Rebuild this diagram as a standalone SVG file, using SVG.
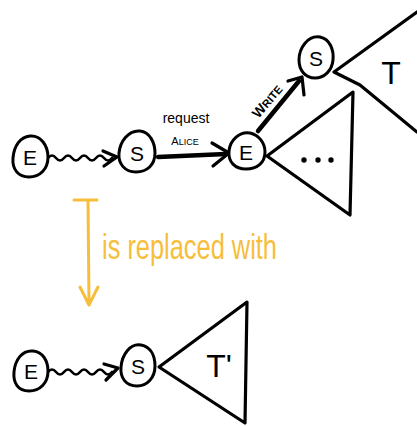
<svg xmlns="http://www.w3.org/2000/svg" width="417" height="426" viewBox="0 0 417 426">
<style>
.n{fill:#fff;stroke:#000;stroke-width:3}
.l{font-family:"Liberation Sans",Arial,sans-serif;font-size:21px;fill:#000;text-anchor:middle}
.e{fill:none;stroke:#000;stroke-width:2.6;stroke-linecap:round;stroke-linejoin:round}
.t{fill:none;stroke:#000;stroke-width:3.2;stroke-linecap:round;stroke-linejoin:round}
.k{fill:none;stroke:#000;stroke-width:4.5;stroke-linecap:round;stroke-linejoin:round}
.o{fill:none;stroke:#F7BE3C;stroke-width:3;stroke-linecap:round;stroke-linejoin:round}
.h{font-family:"Liberation Sans",Arial,sans-serif;fill:#000}
</style>
<rect width="417" height="426" fill="#fff"/>
<g id="connectors">
  <path class="e" d="M48,158 q4,-5 8,0 t8,0 t8,0 t8,0 t8,0 t8,0 t8,0 t8,0"/>
  <path class="t" d="M103,151 L117,157 L104,166"/>
  <path class="k" d="M158,157 L226,154"/>
  <path class="t" d="M212,143 L229,153 L213,166"/>
  <path class="k" d="M258,131 L299,81"/>
  <path class="t" d="M288,81 L302,77 L304,95"/>
  <path class="e" d="M48,372 q4,-5 8,0 t8,0 t8,0 t8,0 t8,0 t8,0 t8,0 t8,0"/>
  <path class="t" d="M104,364 L118,368 L106,380"/>
  <path class="o" d="M74,200 L97,200 M88,200 L89,304 M80,287 L89,305 L98,287"/>
</g>
<g id="label-request">
  <text class="h" x="186" y="123" font-size="14" text-anchor="middle">request</text>
  <text class="h" x="185" y="145" font-size="11" text-anchor="middle">A<tspan font-size="9">LICE</tspan></text>
</g>
<g id="label-write">
  <text class="h" x="267" y="106" font-size="14" font-weight="bold" text-anchor="middle" transform="rotate(-50 267 101)">W<tspan font-size="11">RITE</tspan></text>
</g>
<g id="label-replaced">
  <text x="102" y="259" font-family="Liberation Sans Narrow,Liberation Sans,Arial,sans-serif" font-size="35" fill="#F7BE3C" textLength="175" lengthAdjust="spacingAndGlyphs">is replaced with</text>
</g>
<g id="tree-T">
  <path class="t" d="M417,12 L334,72 L360,85 L417,132"/>
  <text class="h" x="391" y="84" font-size="32" text-anchor="middle">T</text>
</g>
<g id="tree-dots">
  <path class="t" d="M353,92 L267,156 L350,215 Z"/>
  <circle cx="304" cy="160" r="2.7"/><circle cx="318" cy="160" r="2.7"/><circle cx="331" cy="160" r="2.7"/>
</g>
<g id="tree-Tprime">
  <path class="t" d="M247,302 L159,367 L245,423 Z"/>
  <text class="h" x="219" y="377" font-size="32" text-anchor="middle">T'</text>
</g>
<g id="node-E1">
  <path class="n" d="M30,136 C41,135 48,146 48,157 C48,169 40,177 29,177 C18,177 12,169 13,158 C14,146 20,137 30,136 Z"/>
  <text class="l" x="30" y="165">E</text>
</g>
<g id="node-S1">
  <path class="n" d="M140,131 C150,132 155,143 155,153 C155,165 147,172 136,172 C125,172 118,164 119,153 C120,142 128,130 140,131 Z"/>
  <text class="l" x="137" y="161">S</text>
</g>
<g id="node-E2">
  <path class="n" d="M250,133 C259,135 265,143 265,152 C265,163 257,169 246,169 C235,169 228,162 229,151 C230,140 240,131 250,133 Z"/>
  <text class="l" x="246" y="160">E</text>
</g>
<g id="node-S2">
  <path class="n" d="M320,37 C330,39 334,50 333,60 C332,71 324,78 315,78 C305,78 299,70 299,60 C299,48 308,35 320,37 Z"/>
  <text class="l" x="316" y="66">S</text>
</g>
<g id="node-E3">
  <path class="n" d="M33,351 C43,352 48,361 48,371 C48,383 40,391 29,391 C18,391 13,383 14,372 C15,360 22,350 33,351 Z"/>
  <text class="l" x="31" y="379">E</text>
</g>
<g id="node-S3">
  <path class="n" d="M141,345 C151,347 155,356 155,366 C155,378 147,386 137,386 C126,386 120,378 121,367 C122,355 130,343 141,345 Z"/>
  <text class="l" x="138" y="374">S</text>
</g>
</svg>
